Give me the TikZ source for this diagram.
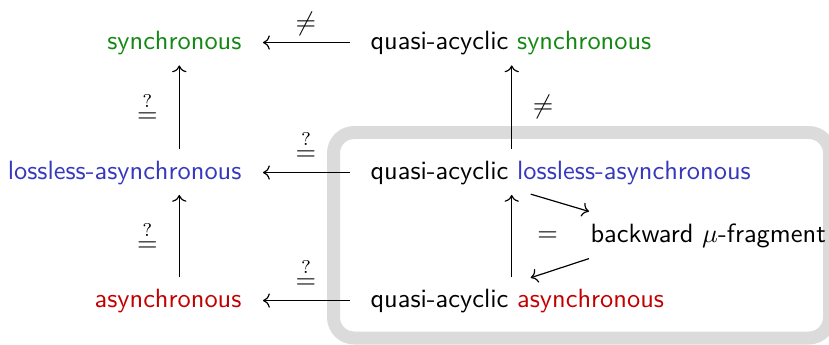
\documentclass[tikz,border=0pt]{standalone}
\usetikzlibrary{calc,arrows.meta}
\definecolor{cgreen}{RGB}{20,135,20}
\definecolor{cblue}{RGB}{55,55,190}
\definecolor{cred}{RGB}{195,0,0}
\newcommand{\qeq}{\stackrel{\mathsf{?}}{=}}
\begin{document}
\begin{tikzpicture}[x=0.3788pt, y=-0.3788pt,
  txt/.style={inner sep=0pt, font=\sffamily},
  arr/.style={-{Computer Modern Rightarrow}, line width=0.45pt},
  hlab/.style={midway, anchor=base, yshift=4.4pt, inner sep=0pt},
  gbox/.style={draw=black!14, line width=4.92pt, rounded corners=7.8pt}]
\useasboundingbox (0,0) rectangle (829,344);
\draw[gbox] (333.5,132.5) rectangle (829.5,338);
% nodes
\node[txt, anchor=base east] (s)  at (242,49)  {\textcolor{cgreen}{synchronous}};
\node[txt, anchor=base west] (qs) at (370,49)  {quasi-acyclic \textcolor{cgreen}{synchronous}};
\node[txt, anchor=base east] (l)  at (242,179) {\textcolor{cblue}{lossless-asynchronous}};
\node[txt, anchor=base west] (ql) at (370,179) {quasi-acyclic \textcolor{cblue}{lossless-asynchronous}};
\node[txt, anchor=base east] (a)  at (242,307) {\textcolor{cred}{asynchronous}};
\node[txt, anchor=base west] (qa) at (370,307) {quasi-acyclic \textcolor{cred}{asynchronous}};
\node[txt, anchor=base west] (b)  at (590,242) {backward $\mu$-fragment};
% horizontal arrows
\draw[arr, shorten <=7.58pt, shorten >=7.95pt] (qs) -- (s) node[hlab] {$\neq$};
\draw[arr, shorten <=7.58pt, shorten >=7.95pt] (ql) -- (l) node[hlab] {$\qeq$};
\draw[arr, shorten <=7.58pt, shorten >=7.95pt] (qa) -- (a) node[hlab] {$\qeq$};
% left vertical arrows
\draw[arr] ([shift={(-62.7,-11.5)}]l.north east) -- ([shift={(-62.7,10.5)}]s.south east)
  node[midway, anchor=east, xshift=-7.95pt, inner sep=0pt] {$\qeq$};
\draw[arr] ([shift={(-62.7,-10.7)}]a.north east) -- ([shift={(-62.7,10)}]l.south east)
  node[midway, anchor=east, xshift=-7.95pt, inner sep=0pt] {$\qeq$};
% right vertical arrows
\draw[arr] ([shift={(141.7,-11.5)}]ql.north west) -- ([shift={(141.7,10.5)}]qs.south west)
  node[midway, anchor=west, xshift=7.8pt, inner sep=0pt] {$\neq$};
\draw[arr] ([shift={(141.7,-10.7)}]qa.north west) -- ([shift={(141.7,10)}]ql.south west)
  node[midway, anchor=west, xshift=9.5pt, inner sep=0pt] {$=$};
% diagonal arrows
\draw[arr] ([shift={(160.7,9.2)}]ql.south west) -- ([shift={(-1,-11.4)}]b.north west);
\draw[arr] ([shift={(-1,10.6)}]b.south west) -- ([shift={(160.7,-10.4)}]qa.north west);
\end{tikzpicture}
\end{document}
